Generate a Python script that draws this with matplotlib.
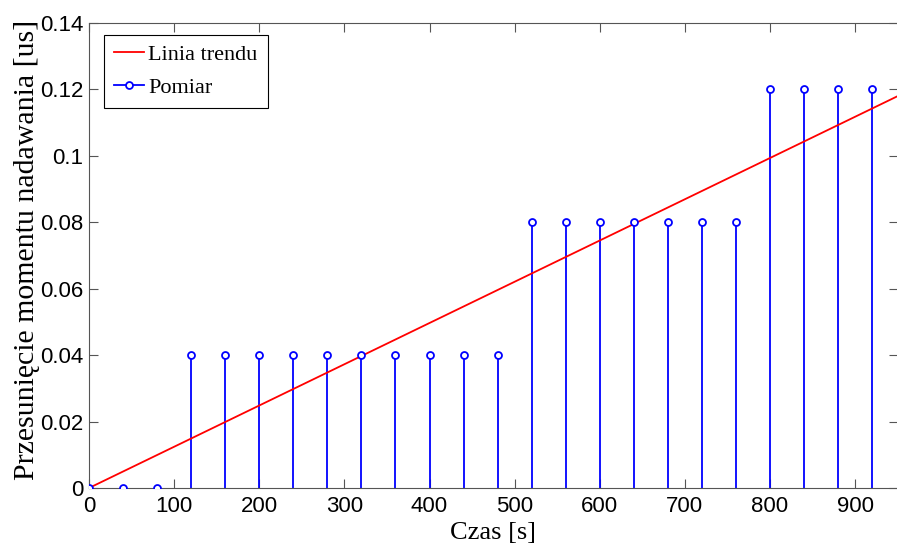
import numpy as np
import matplotlib
matplotlib.use("Agg")
import matplotlib.pyplot as plt
from matplotlib.lines import Line2D
from matplotlib.legend_handler import HandlerLine2D

# pomiary (stem) i linia trendu
czas = [0, 40, 80, 120, 160, 200, 240, 280, 320, 360, 400, 440, 480,
        520, 560, 600, 640, 680, 720, 760, 800, 840, 880, 920]
przesuniecie = [0, 0, 0, 0.04, 0.04, 0.04, 0.04, 0.04, 0.04, 0.04, 0.04, 0.04, 0.04,
                0.08, 0.08, 0.08, 0.08, 0.08, 0.08, 0.08, 0.12, 0.12, 0.12, 0.12]
trend_x = [0, 950]
trend_y = [0, 0.118]

xticks = [0, 100, 200, 300, 400, 500, 600, 700, 800, 900]
yticks = [0, 0.02, 0.04, 0.06, 0.08, 0.1, 0.12, 0.14]
ytick_labels = ['0', '0.02', '0.04', '0.06', '0.08', '0.1', '0.12', '0.14']


class StemHandler(HandlerLine2D):
    # marker na koncu linii, jak w legendzie stem z MATLABa
    def get_xdata(self, legend, xdescent, ydescent, width, height, fontsize):
        xdata, _ = super().get_xdata(legend, xdescent, ydescent, width, height, fontsize)
        return xdata, [xdata[-1]]


fig = plt.figure(figsize=(8.97, 5.46), dpi=100)
ax = fig.add_axes([0.0992, 0.1062, 0.9016, 0.8516])

ax.plot(trend_x, trend_y, color='red', lw=1.3, zorder=3)
ax.vlines(czas, 0, przesuniecie, colors='blue', lw=1.3, zorder=2)
ax.plot(czas, przesuniecie, 'o', mfc='white', mec='blue', mew=1.3, ms=5, ls='none', zorder=4)

ax.set_xlim(0, 950)
ax.set_ylim(0, 0.14)
ax.set_xticks(xticks)
ax.set_yticks(yticks)
ax.set_yticklabels(ytick_labels)

for lab in ax.get_xticklabels() + ax.get_yticklabels():
    lab.set_fontfamily('Liberation Sans')
    lab.set_fontsize(16)

ax.tick_params(direction='in', length=6.5, width=0.8, color='#555555',
               top=True, right=True)
ax.tick_params(axis='x', pad=6)
ax.tick_params(axis='y', pad=4)
for s in ax.spines.values():
    s.set_color('#555555')
    s.set_linewidth(0.8)

ax.set_xlabel('Czas [s]', family='Liberation Serif', fontsize=19, labelpad=3)
ax.set_ylabel('Przesunięcie momentu nadawania [us]', family='Liberation Serif',
              fontsize=21.5)
ax.yaxis.set_label_coords(-0.06, 0.513)

h_trend = Line2D([], [], color='red', lw=1.3)
h_pom = Line2D([], [], color='blue', lw=1.3, marker='o', mfc='white', mec='blue', mew=1.3, ms=5)
leg = ax.legend([h_trend, h_pom], ['Linia trendu', 'Pomiar'],
                handler_map={h_pom: StemHandler(numpoints=1)},
                loc='upper left', bbox_to_anchor=(0.0185, 0.975),
                prop={'family': 'Liberation Serif', 'size': 16},
                frameon=True, fancybox=False, edgecolor='black', framealpha=1,
                borderpad=0.45, handlelength=1.35, handletextpad=0.2, labelspacing=0.55,
                borderaxespad=0)
leg.get_frame().set_linewidth(0.8)

fig.savefig('out.png', dpi=100)
